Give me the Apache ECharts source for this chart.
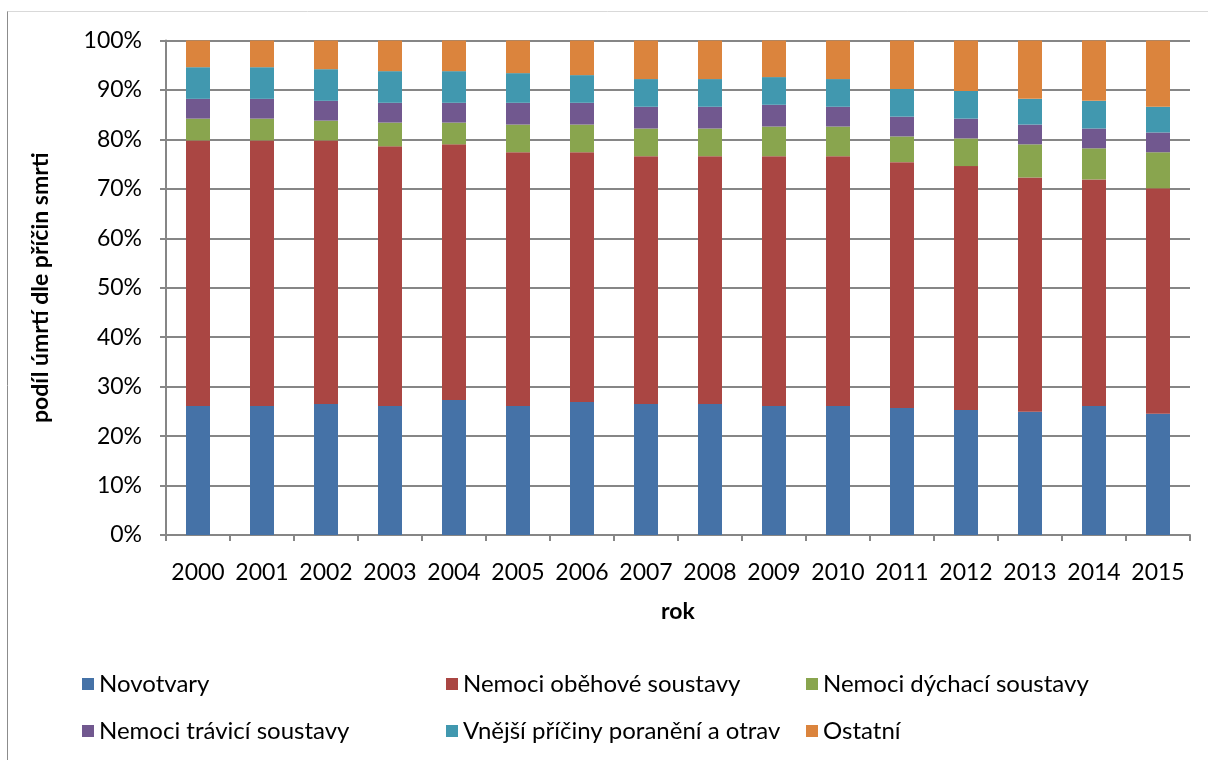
<!DOCTYPE html>
<html>
<head>
<meta charset="utf-8">
<script src="https://cdn.jsdelivr.net/npm/echarts@6/dist/echarts.min.js"></script>
<style>
  html, body { margin: 0; padding: 0; background: #fff; }
  #chart { width: 1208px; height: 760px; }
</style>
</head>
<body>
<div id="chart"></div>
<script>
// Struktura úmrtí podle příčin smrti (podíl v %), 2000–2015
const years = ['2000','2001','2002','2003','2004','2005','2006','2007','2008','2009','2010','2011','2012','2013','2014','2015'];

const novotvary = [26.1, 26.1, 26.5, 26.1, 27.3, 26.1, 26.9, 26.5, 26.5, 26.1, 26.1, 25.7, 25.3, 24.9, 26.1, 24.5];
const obehove   = [53.7, 53.7, 53.3, 52.5, 51.7, 51.3, 50.5, 50.1, 50.1, 50.5, 50.5, 49.7, 49.3, 47.4, 45.8, 45.6];
const dychaci   = [4.4, 4.4, 4.0, 4.8, 4.4, 5.6, 5.6, 5.6, 5.6, 6.0, 6.0, 5.2, 5.6, 6.7, 6.3, 7.3];
const travici   = [4.0, 4.0, 4.0, 4.0, 4.0, 4.4, 4.4, 4.4, 4.4, 4.4, 4.0, 4.0, 4.0, 4.0, 4.0, 4.0];
const vnejsi    = [6.4, 6.4, 6.4, 6.4, 6.4, 6.0, 5.6, 5.6, 5.6, 5.6, 5.6, 5.6, 5.6, 5.2, 5.6, 5.2];
const ostatni   = [5.4, 5.4, 5.8, 6.2, 6.2, 6.6, 7.0, 7.8, 7.8, 7.4, 7.8, 9.8, 10.2, 11.8, 12.2, 13.4];

const yTicks = [0, 10, 20, 30, 40, 50, 60, 70, 80, 90, 100];

const seriesDefs = [
  { name: 'Novotvary', data: novotvary, color: '#4572A7' },
  { name: 'Nemoci oběhové soustavy', data: obehove, color: '#AA4643' },
  { name: 'Nemoci dýchací soustavy', data: dychaci, color: '#89A54E' },
  { name: 'Nemoci trávicí soustavy', data: travici, color: '#71588F' },
  { name: 'Vnější příčiny poranění a otrav', data: vnejsi, color: '#4198AF' },
  { name: 'Ostatní', data: ostatni, color: '#DB843D' }
];

const FONT = 'Lato';
const textStyle = { fontFamily: FONT, fontSize: 23, color: '#000' };
const gridColor = '#868686';

function legendColumn(left, names) {
  return {
    orient: 'vertical',
    left: left,
    top: 667,
    itemWidth: 12,
    itemHeight: 12,
    itemGap: 23,
    icon: 'rect',
    selectedMode: false,
    data: names,
    textStyle: { fontFamily: FONT, fontSize: 24, color: '#000', padding: [0, 0, 0, 0] }
  };
}

const chart = echarts.init(document.getElementById('chart'), null, { renderer: 'canvas' });

chart.setOption({
  animation: false,
  backgroundColor: '#fff',
  textStyle: { fontFamily: FONT },
  graphic: [
    { type: 'line', shape: { x1: 7.5, y1: 11, x2: 7.5, y2: 760 }, style: { stroke: '#8c8c8c', lineWidth: 1 } },
    { type: 'line', shape: { x1: 7.5, y1: 11.5, x2: 1208, y2: 11.5 }, style: { stroke: '#d9d9d9', lineWidth: 1 } }
  ],
  grid: { left: 166, right: 18, top: 40.5, bottom: 225, containLabel: false },
  legend: [
    legendColumn(77, [seriesDefs[0].name, seriesDefs[3].name]),
    legendColumn(441, [seriesDefs[1].name, seriesDefs[4].name]),
    legendColumn(801, [seriesDefs[2].name, seriesDefs[5].name])
  ],
  xAxis: {
    type: 'category',
    data: years,
    name: 'rok',
    nameLocation: 'middle',
    nameGap: 65,
    nameTextStyle: { fontFamily: FONT, fontSize: 23, fontWeight: 'bold', color: '#000' },
    axisLine: { show: true, lineStyle: { color: gridColor, width: 2 } },
    axisTick: { show: true, alignWithLabel: false, length: 6, lineStyle: { color: gridColor, width: 2 } },
    axisLabel: Object.assign({ margin: 26, interval: 0 }, textStyle),
    splitLine: { show: false }
  },
  yAxis: {
    type: 'value',
    min: yTicks[0],
    max: yTicks[yTicks.length - 1],
    interval: yTicks[1] - yTicks[0],
    name: 'podíl úmrtí dle příčin smrti',
    nameLocation: 'middle',
    nameRotate: 90,
    nameGap: 114,
    nameTextStyle: { fontFamily: FONT, fontSize: 23, fontWeight: 'bold', color: '#000' },
    axisLine: { show: true, lineStyle: { color: gridColor, width: 2 } },
    axisTick: { show: true, length: 6, lineStyle: { color: gridColor, width: 2 } },
    axisLabel: Object.assign({ margin: 24, formatter: '{value}%' }, textStyle),
    splitLine: { show: true, lineStyle: { color: gridColor, width: 2 } }
  },
  series: seriesDefs.map(s => ({
    name: s.name,
    type: 'bar',
    stack: 'total',
    barWidth: '37.5%',
    data: s.data,
    itemStyle: { color: s.color },
    emphasis: { disabled: true }
  }))
});
</script>
</body>
</html>
